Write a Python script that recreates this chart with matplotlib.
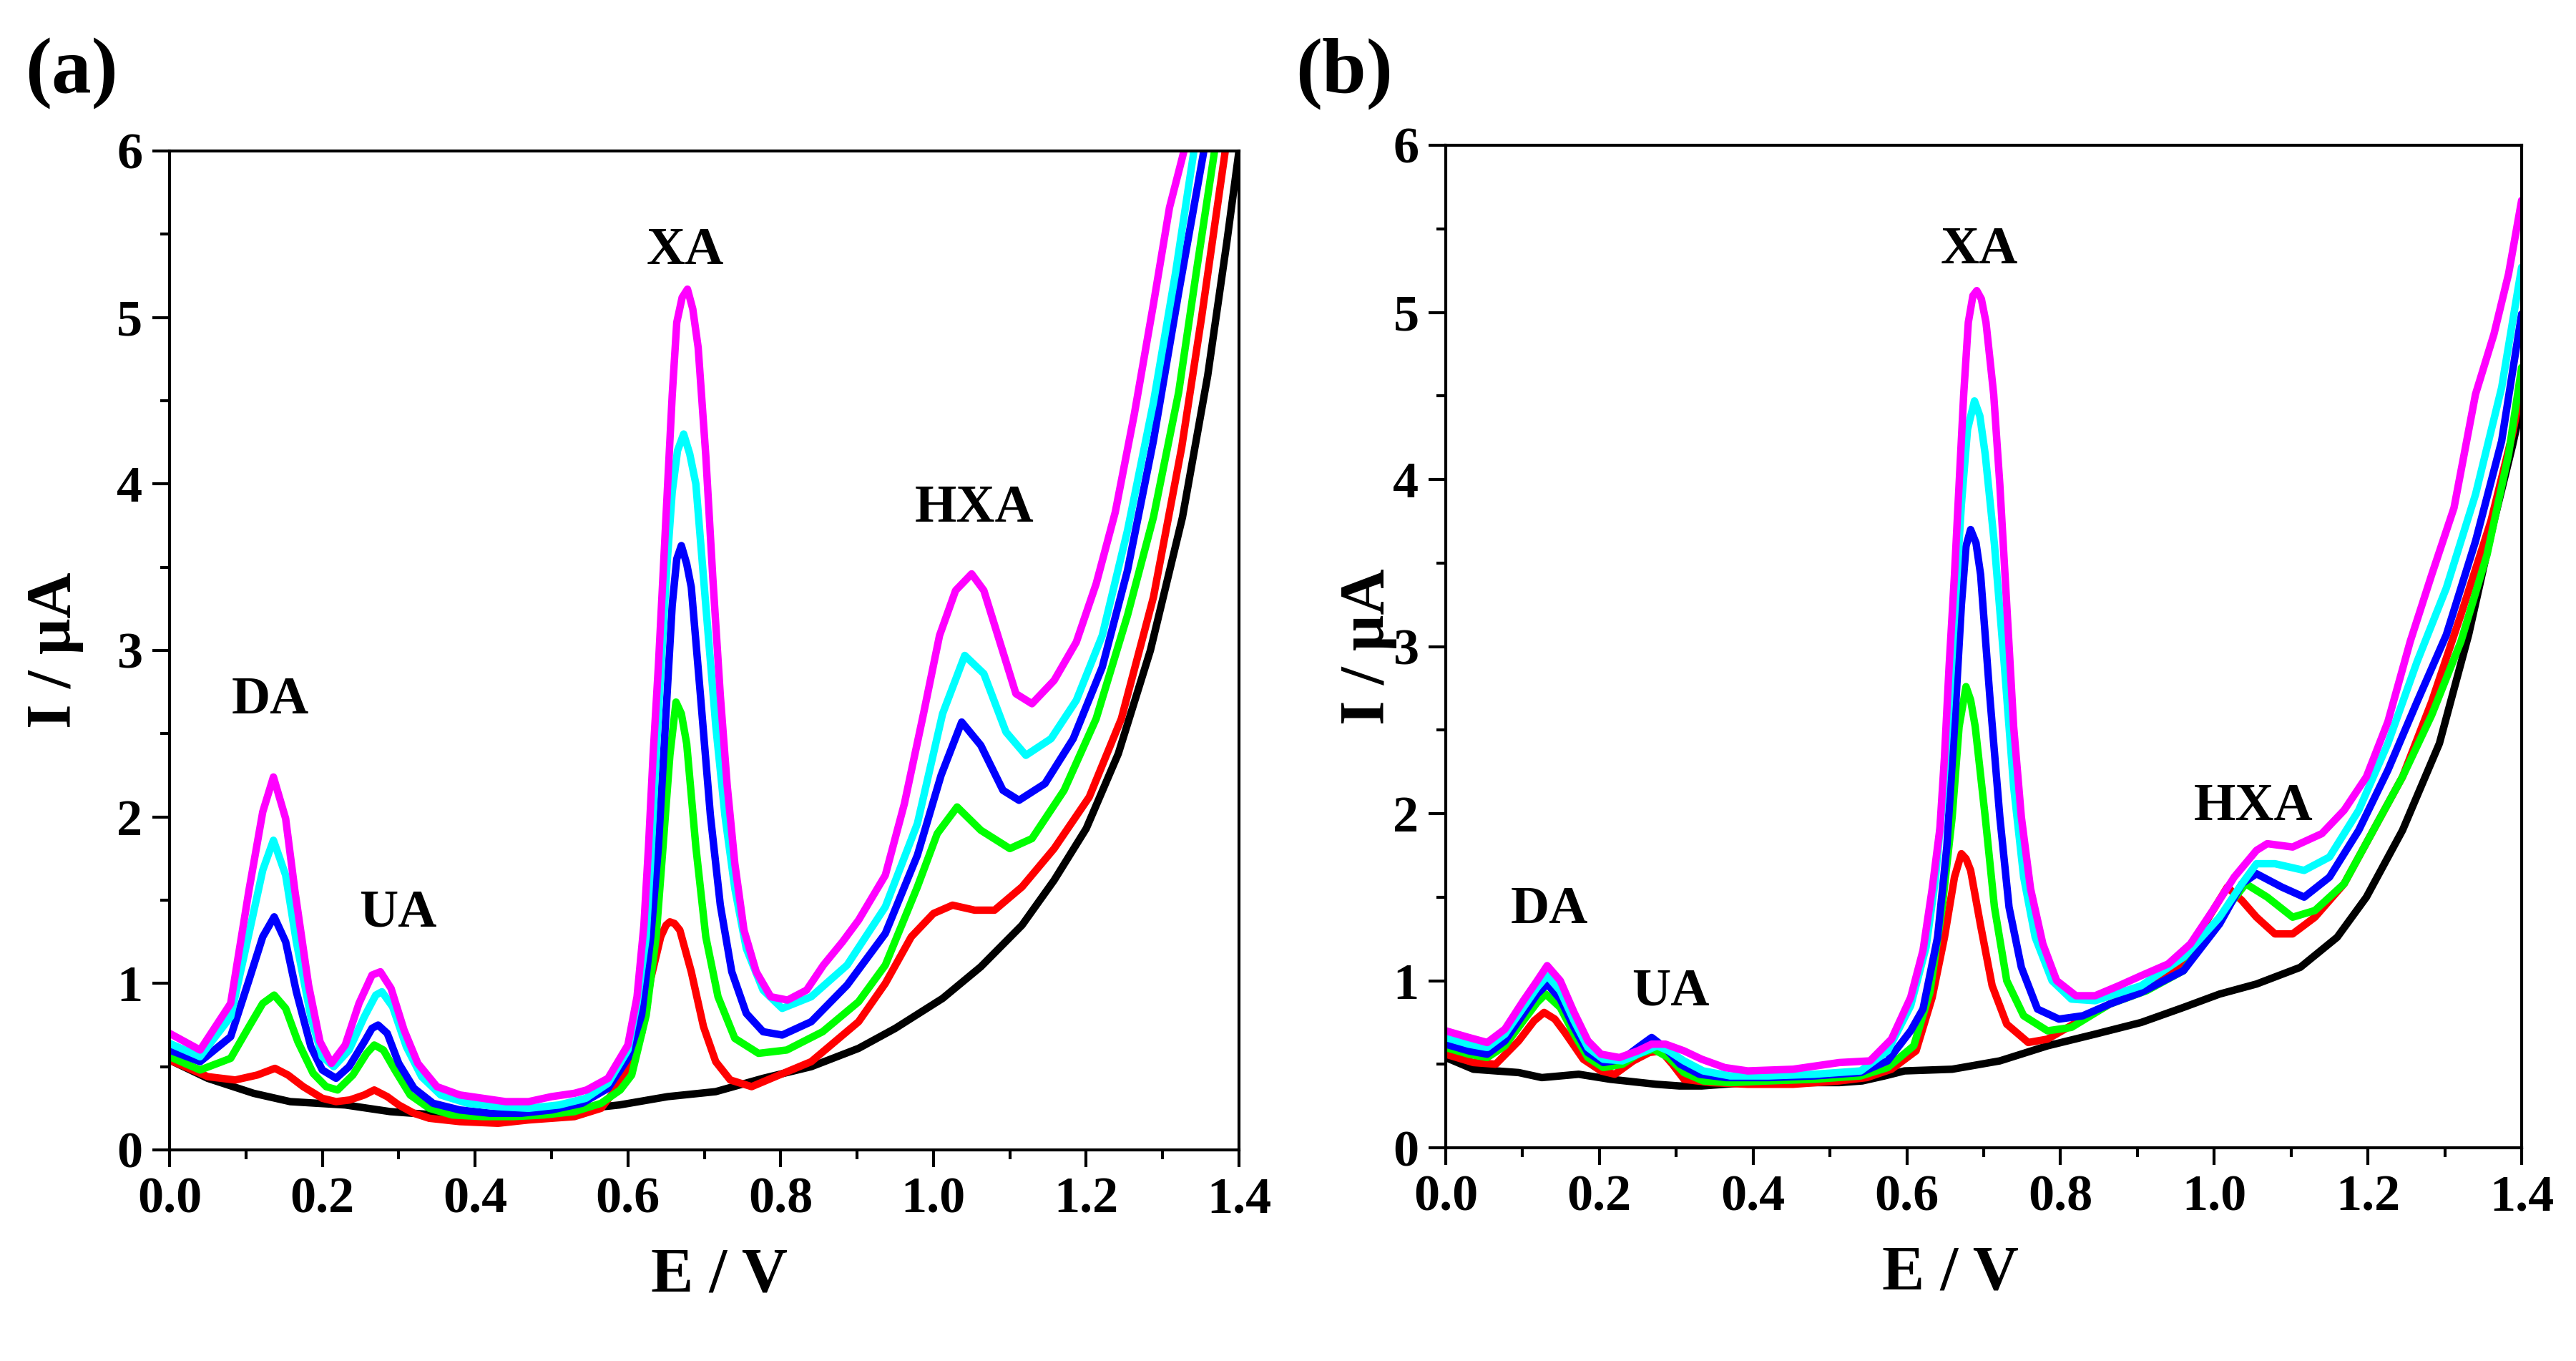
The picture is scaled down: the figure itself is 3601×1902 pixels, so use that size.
import matplotlib

matplotlib.use("Agg")
import matplotlib.pyplot as plt
from matplotlib.ticker import MultipleLocator, FormatStrFormatter

plt.rcParams["font.family"] = ["Liberation Serif", "DejaVu Serif"]
plt.rcParams["font.weight"] = "bold"

# ---------------- panel (a) ----------------
a_black_E = [0.0, 0.05, 0.11, 0.158, 0.23, 0.289, 0.349, 0.409, 0.468, 0.528, 0.589, 0.652,
             0.715, 0.777, 0.84, 0.902, 0.95, 1.012, 1.062, 1.116, 1.158, 1.20, 1.242, 1.284,
             1.326, 1.359, 1.384, 1.40]
a_black_I = [0.54, 0.43, 0.34, 0.29, 0.27, 0.23, 0.21, 0.21, 0.22, 0.24, 0.27, 0.32,
             0.35, 0.43, 0.50, 0.61, 0.73, 0.91, 1.10, 1.35, 1.62, 1.93, 2.38, 3.00,
             3.80, 4.65, 5.45, 6.0]

a_red_E = [0.0, 0.05, 0.086, 0.115, 0.138, 0.155, 0.175, 0.20, 0.218, 0.236, 0.255, 0.268,
           0.285, 0.30, 0.32, 0.34, 0.38, 0.43, 0.47, 0.53, 0.565, 0.585, 0.602, 0.618,
           0.63, 0.643, 0.65, 0.655, 0.661, 0.668, 0.683, 0.699, 0.715, 0.734, 0.762, 0.793,
           0.84, 0.902, 0.937, 0.971, 1.0, 1.025, 1.054, 1.08, 1.116, 1.158, 1.204,
           1.246, 1.288, 1.325, 1.351, 1.382]
a_red_I = [0.54, 0.44, 0.42, 0.45, 0.49, 0.45, 0.38, 0.31, 0.29, 0.30, 0.33, 0.36,
           0.32, 0.27, 0.22, 0.19, 0.17, 0.16, 0.18, 0.20, 0.25, 0.37, 0.49, 0.70,
           1.03, 1.28, 1.35, 1.37, 1.36, 1.32, 1.07, 0.74, 0.53, 0.42, 0.38, 0.44,
           0.53, 0.77, 1.00, 1.28, 1.42, 1.47, 1.44, 1.44, 1.58, 1.81, 2.12,
           2.59, 3.32, 4.22, 5.0, 6.0]

a_green_E = [0.0, 0.04, 0.08, 0.104, 0.122, 0.137, 0.152, 0.168, 0.188, 0.205, 0.22, 0.24,
             0.258, 0.268, 0.28, 0.295, 0.315, 0.34, 0.37, 0.41, 0.45, 0.49, 0.53, 0.565,
             0.59, 0.605, 0.624, 0.637, 0.646, 0.655, 0.663, 0.670, 0.677, 0.689, 0.702, 0.718,
             0.74, 0.771, 0.808, 0.855, 0.902, 0.937, 0.979, 1.005, 1.031, 1.062, 1.10, 1.129,
             1.171, 1.213, 1.254, 1.288, 1.321, 1.345, 1.368]
a_green_I = [0.56, 0.48, 0.55, 0.74, 0.88, 0.93, 0.85, 0.65, 0.46, 0.38, 0.36, 0.45,
             0.58, 0.63, 0.60, 0.48, 0.33, 0.25, 0.21, 0.20, 0.20, 0.21, 0.23, 0.28,
             0.36, 0.45, 0.81, 1.28, 1.82, 2.37, 2.69, 2.62, 2.44, 1.82, 1.28, 0.92,
             0.67, 0.58, 0.60, 0.71, 0.89, 1.11, 1.58, 1.90, 2.06, 1.92, 1.81, 1.87,
             2.16, 2.59, 3.21, 3.80, 4.55, 5.30, 6.0]

a_blue_E = [0.0, 0.04, 0.08, 0.104, 0.122, 0.137, 0.152, 0.166, 0.185, 0.20, 0.218, 0.235,
            0.255, 0.265, 0.273, 0.285, 0.30, 0.32, 0.345, 0.38, 0.42, 0.46, 0.50, 0.54,
            0.574, 0.60, 0.618, 0.63, 0.64, 0.649, 0.658, 0.664, 0.670, 0.677, 0.683, 0.695,
            0.708, 0.721, 0.736, 0.755, 0.777, 0.802, 0.84, 0.887, 0.937, 0.979, 1.01, 1.037,
            1.062, 1.091, 1.112, 1.146, 1.183, 1.221, 1.254, 1.288, 1.321, 1.354]
a_blue_I = [0.60, 0.53, 0.68, 1.02, 1.28, 1.40, 1.25, 0.95, 0.62, 0.48, 0.43, 0.50,
            0.65, 0.73, 0.75, 0.70, 0.52, 0.37, 0.28, 0.24, 0.22, 0.22, 0.24, 0.28,
            0.37, 0.55, 0.81, 1.28, 1.82, 2.55, 3.27, 3.55, 3.63, 3.52, 3.38, 2.73,
            2.01, 1.47, 1.07, 0.82, 0.71, 0.69, 0.77, 0.99, 1.30, 1.77, 2.25, 2.57,
            2.43, 2.16, 2.10, 2.20, 2.47, 2.90, 3.48, 4.26, 5.15, 6.0]

a_cyan_E = [0.0, 0.04, 0.08, 0.104, 0.122, 0.136, 0.152, 0.166, 0.185, 0.20, 0.215, 0.235,
            0.255, 0.27, 0.278, 0.292, 0.31, 0.33, 0.355, 0.39, 0.43, 0.47, 0.51, 0.545,
            0.574, 0.60, 0.612, 0.624, 0.630, 0.637, 0.644, 0.651, 0.658, 0.665, 0.673, 0.681,
            0.689, 0.702, 0.715, 0.727, 0.74, 0.755, 0.777, 0.802, 0.84, 0.887, 0.937, 0.979,
            1.012, 1.041, 1.066, 1.095, 1.121, 1.154, 1.187, 1.221, 1.254, 1.288, 1.317, 1.341]
a_cyan_I = [0.64, 0.56, 0.80, 1.30, 1.68, 1.86, 1.65, 1.25, 0.80, 0.56, 0.50, 0.60,
            0.80, 0.93, 0.95, 0.86, 0.62, 0.44, 0.33, 0.28, 0.26, 0.25, 0.27, 0.31,
            0.40, 0.60, 0.88, 1.28, 1.75, 2.37, 2.95, 3.50, 3.95, 4.20, 4.30, 4.18,
            4.00, 3.27, 2.55, 2.01, 1.57, 1.21, 0.96, 0.85, 0.92, 1.11, 1.46, 1.96,
            2.62, 2.97, 2.86, 2.51, 2.37, 2.47, 2.70, 3.09, 3.72, 4.49, 5.27, 6.0]

a_magenta_E = [0.0, 0.04, 0.08, 0.104, 0.122, 0.136, 0.152, 0.164, 0.182, 0.197, 0.212, 0.23,
               0.248, 0.265, 0.276, 0.29, 0.307, 0.325, 0.35, 0.38, 0.41, 0.44, 0.47, 0.50,
               0.53, 0.546, 0.574, 0.60, 0.612, 0.621, 0.627, 0.633, 0.640, 0.646, 0.652, 0.658,
               0.664, 0.671, 0.678, 0.685, 0.692, 0.702, 0.711, 0.721, 0.730, 0.74, 0.752, 0.768,
               0.787, 0.809, 0.834, 0.856, 0.881, 0.902, 0.937, 0.962, 0.987, 1.008, 1.029, 1.05,
               1.066, 1.087, 1.108, 1.129, 1.158, 1.187, 1.213, 1.238, 1.263, 1.288, 1.309, 1.328]
a_magenta_I = [0.70, 0.60, 0.88, 1.56, 2.03, 2.24, 1.99, 1.56, 0.99, 0.65, 0.52, 0.63,
               0.88, 1.05, 1.07, 0.97, 0.72, 0.52, 0.38, 0.33, 0.31, 0.29, 0.29, 0.32,
               0.34, 0.36, 0.43, 0.63, 0.92, 1.35, 1.82, 2.37, 2.91, 3.45, 3.99, 4.53,
               4.97, 5.12, 5.17, 5.05, 4.82, 4.17, 3.45, 2.73, 2.19, 1.72, 1.32, 1.07,
               0.92, 0.90, 0.96, 1.11, 1.25, 1.38, 1.65, 2.08, 2.62, 3.09, 3.36, 3.46,
               3.36, 3.05, 2.74, 2.68, 2.82, 3.05, 3.40, 3.83, 4.42, 5.08, 5.66, 6.0]

# ---------------- panel (b) ----------------
b_black_E = [0.0, 0.036, 0.095, 0.125, 0.173, 0.214, 0.274, 0.304, 0.333, 0.393, 0.452, 0.512,
             0.542, 0.571, 0.597, 0.659, 0.721, 0.783, 0.845, 0.905, 0.96, 1.007, 1.055, 1.112,
             1.16, 1.198, 1.245, 1.293, 1.331, 1.364, 1.388, 1.40]
b_black_I = [0.54, 0.47, 0.45, 0.42, 0.44, 0.41, 0.38, 0.37, 0.37, 0.39, 0.39, 0.39,
             0.40, 0.43, 0.46, 0.47, 0.52, 0.61, 0.68, 0.75, 0.84, 0.92, 0.98, 1.08,
             1.26, 1.50, 1.90, 2.42, 3.07, 3.75, 4.20, 4.45]

b_red_E = [0.0, 0.036, 0.065, 0.095, 0.115, 0.128, 0.142, 0.155, 0.179, 0.202, 0.22, 0.244,
           0.265, 0.28, 0.295, 0.31, 0.345, 0.393, 0.452, 0.512, 0.548, 0.580, 0.612, 0.633,
           0.649, 0.662, 0.671, 0.677, 0.683, 0.696, 0.711, 0.730, 0.758, 0.783, 0.817, 0.864,
           0.912, 0.96, 0.993, 1.017, 1.036, 1.055, 1.079, 1.102, 1.131, 1.169, 1.207, 1.245,
           1.283, 1.321, 1.36, 1.388, 1.40]
b_red_I = [0.56, 0.51, 0.50, 0.64, 0.76, 0.81, 0.77, 0.69, 0.53, 0.46, 0.44, 0.52,
           0.57, 0.58, 0.50, 0.41, 0.39, 0.38, 0.38, 0.40, 0.42, 0.47, 0.58, 0.90,
           1.26, 1.62, 1.76, 1.73, 1.66, 1.33, 0.97, 0.74, 0.63, 0.65, 0.74, 0.86,
           0.96, 1.10, 1.38, 1.56, 1.48, 1.38, 1.28, 1.28, 1.38, 1.58, 1.90, 2.22,
           2.67, 3.19, 3.75, 4.27, 4.55]

b_green_E = [0.0, 0.03, 0.054, 0.077, 0.101, 0.119, 0.13, 0.149, 0.167, 0.185, 0.205, 0.23,
             0.25, 0.27, 0.29, 0.31, 0.335, 0.37, 0.42, 0.48, 0.54, 0.575, 0.609, 0.630,
             0.646, 0.659, 0.668, 0.677, 0.683, 0.689, 0.702, 0.714, 0.730, 0.752, 0.783, 0.814,
             0.864, 0.912, 0.96, 1.007, 1.041, 1.069, 1.102, 1.131, 1.169, 1.207, 1.245,
             1.283, 1.321, 1.355, 1.383, 1.40]
b_green_I = [0.60, 0.56, 0.54, 0.61, 0.76, 0.87, 0.92, 0.84, 0.68, 0.54, 0.48, 0.50,
             0.56, 0.59, 0.54, 0.45, 0.40, 0.39, 0.40, 0.41, 0.43, 0.48, 0.61, 0.93,
             1.44, 1.98, 2.52, 2.76, 2.68, 2.52, 1.98, 1.44, 1.00, 0.79, 0.70, 0.72,
             0.86, 0.94, 1.06, 1.38, 1.58, 1.50, 1.38, 1.42, 1.58, 1.90, 2.22,
             2.59, 3.03, 3.55, 4.15, 4.67]

b_blue_E = [0.0, 0.03, 0.054, 0.077, 0.101, 0.119, 0.132, 0.149, 0.167, 0.185, 0.205, 0.23,
            0.25, 0.268, 0.285, 0.305, 0.33, 0.365, 0.42, 0.48, 0.54, 0.575, 0.605, 0.621,
            0.640, 0.652, 0.662, 0.671, 0.677, 0.683, 0.690, 0.696, 0.708, 0.721, 0.733, 0.749,
            0.77, 0.798, 0.829, 0.864, 0.905, 0.96, 1.007, 1.036, 1.055, 1.088, 1.117, 1.15,
            1.188, 1.226, 1.264, 1.302, 1.34, 1.374, 1.40]
b_blue_I = [0.62, 0.58, 0.56, 0.64, 0.80, 0.92, 0.98, 0.89, 0.72, 0.57, 0.51, 0.53,
            0.60, 0.66, 0.60, 0.50, 0.44, 0.42, 0.42, 0.43, 0.45, 0.52, 0.70, 0.83,
            1.26, 1.80, 2.52, 3.25, 3.60, 3.70, 3.62, 3.43, 2.70, 1.98, 1.44, 1.08,
            0.83, 0.77, 0.79, 0.86, 0.93, 1.06, 1.34, 1.58, 1.64, 1.56, 1.50, 1.62,
            1.90, 2.26, 2.67, 3.07, 3.63, 4.23, 4.99]

b_cyan_E = [0.0, 0.03, 0.054, 0.077, 0.101, 0.119, 0.132, 0.149, 0.167, 0.185, 0.205, 0.23,
            0.255, 0.275, 0.29, 0.31, 0.335, 0.37, 0.42, 0.48, 0.54, 0.575, 0.605, 0.625,
            0.637, 0.647, 0.655, 0.663, 0.671, 0.679, 0.688, 0.695, 0.702, 0.714, 0.727, 0.739,
            0.752, 0.767, 0.789, 0.814, 0.845, 0.905, 0.96, 1.007, 1.036, 1.055, 1.079, 1.117,
            1.15, 1.188, 1.226, 1.264, 1.302, 1.34, 1.374, 1.40]
b_cyan_I = [0.66, 0.62, 0.60, 0.68, 0.84, 0.96, 1.03, 0.94, 0.76, 0.60, 0.53, 0.52,
            0.57, 0.61, 0.58, 0.52, 0.46, 0.43, 0.43, 0.44, 0.46, 0.58, 0.85, 1.20,
            1.60, 2.10, 2.65, 3.25, 3.85, 4.30, 4.47, 4.38, 4.15, 3.61, 2.88, 2.16,
            1.62, 1.26, 1.00, 0.89, 0.88, 0.97, 1.14, 1.38, 1.58, 1.70, 1.70, 1.66,
            1.74, 2.02, 2.42, 2.91, 3.35, 3.91, 4.55, 5.27]

b_magenta_E = [0.0, 0.03, 0.054, 0.077, 0.101, 0.119, 0.132, 0.149, 0.167, 0.185, 0.202, 0.226,
               0.25, 0.268, 0.286, 0.31, 0.333, 0.363, 0.393, 0.452, 0.512, 0.552, 0.580, 0.605,
               0.621, 0.633, 0.643, 0.649, 0.655, 0.662, 0.668, 0.674, 0.680, 0.686, 0.691, 0.697,
               0.703, 0.713, 0.721, 0.730, 0.739, 0.749, 0.761, 0.777, 0.795, 0.820, 0.845, 0.876,
               0.905, 0.94, 0.969, 0.998, 1.026, 1.055, 1.069, 1.102, 1.14, 1.169, 1.198, 1.226,
               1.255, 1.283, 1.312, 1.34, 1.364, 1.383, 1.40]
b_magenta_I = [0.70, 0.66, 0.63, 0.71, 0.88, 1.00, 1.09, 1.00, 0.81, 0.64, 0.56, 0.54,
               0.58, 0.62, 0.62, 0.58, 0.53, 0.48, 0.46, 0.47, 0.51, 0.52, 0.65, 0.90,
               1.18, 1.55, 1.91, 2.34, 2.88, 3.43, 3.97, 4.51, 4.94, 5.10, 5.13, 5.08,
               4.94, 4.51, 3.97, 3.25, 2.52, 1.98, 1.55, 1.22, 1.00, 0.91, 0.91, 0.97,
               1.03, 1.10, 1.22, 1.42, 1.62, 1.78, 1.82, 1.80, 1.88, 2.02, 2.22, 2.55,
               3.03, 3.43, 3.83, 4.51, 4.87, 5.23, 5.67]

colors = ["black", "#ff0000", "#00ff00", "#0000ff", "#00ffff", "#ff00ff"]

panel_a = [(a_black_E, a_black_I), (a_red_E, a_red_I), (a_green_E, a_green_I),
           (a_blue_E, a_blue_I), (a_cyan_E, a_cyan_I), (a_magenta_E, a_magenta_I)]
panel_b = [(b_black_E, b_black_I), (b_red_E, b_red_I), (b_green_E, b_green_I),
           (b_blue_E, b_blue_I), (b_cyan_E, b_cyan_I), (b_magenta_E, b_magenta_I)]

peak_names = ["DA", "UA", "XA", "HXA"]
a_label_pos = [(0.132, 2.70), (0.299, 1.42), (0.675, 5.40), (1.054, 3.85)]
b_label_pos = [(0.135, 1.42), (0.293, 0.93), (0.694, 5.37), (1.051, 2.04)]

W, H = 3601, 1902
fig = plt.figure(figsize=(W / 100, H / 100), dpi=100)


def px_axes(x0, x1, ytop, ybot):
    return fig.add_axes([x0 / W, 1 - ybot / H, (x1 - x0) / W, (ybot - ytop) / H])


ax_a = px_axes(237, 1732, 211, 1607)
ax_b = px_axes(2021, 3525, 203, 1604)


def style(ax, curves, labels, xlab_x, ylab_x):
    for (e, i), c in zip(curves, colors):
        ax.plot(e, i, color=c, lw=7.5, solid_joinstyle="round", solid_capstyle="round")
    for name, (x, y) in zip(peak_names, labels):
        ax.text(x, y, name, ha="center", va="center", fontsize=54, fontweight="bold")
    ax.set_xlim(0, 1.4)
    ax.set_ylim(0, 6)
    ax.xaxis.set_major_locator(MultipleLocator(0.2))
    ax.xaxis.set_minor_locator(MultipleLocator(0.1))
    ax.yaxis.set_major_locator(MultipleLocator(1))
    ax.yaxis.set_minor_locator(MultipleLocator(0.5))
    ax.xaxis.set_major_formatter(FormatStrFormatter("%.1f"))
    ax.tick_params(which="both", direction="out", top=False, right=False, width=3)
    ax.tick_params(which="major", length=17, labelsize=52, pad=10)
    ax.tick_params(which="minor", length=9.5)
    for lab in ax.get_xticklabels() + ax.get_yticklabels():
        lab.set_fontweight("bold")
    for sp in ax.spines.values():
        sp.set_linewidth(3)
    ax.set_xlabel("E / V", fontsize=64, fontweight="bold")
    ax.set_ylabel("I / μA", fontsize=64, fontweight="bold")
    ax.xaxis.set_label_coords(xlab_x, -0.097)
    ax.yaxis.set_label_coords(ylab_x, 0.5)


style(ax_a, panel_a, a_label_pos, 0.514, -0.080)
style(ax_b, panel_b, b_label_pos, 0.469, -0.045)

fig.text(100 / W, 1 - 103 / H, "(a)", ha="center", va="center", fontsize=80, fontweight="bold")
fig.text(1879 / W, 1 - 103 / H, "(b)", ha="center", va="center", fontsize=80, fontweight="bold")

fig.savefig("out.png", dpi=100)
